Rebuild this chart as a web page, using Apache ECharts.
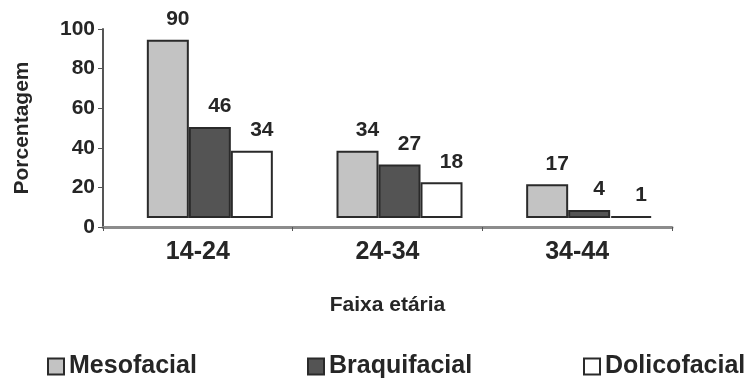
<!DOCTYPE html>
<html>
<head>
<meta charset="utf-8">
<script src="https://cdn.jsdelivr.net/npm/echarts@6/dist/echarts.min.js"></script>
<style>
  html, body { margin: 0; padding: 0; background: #fff; }
  #chart { width: 750px; height: 380px; }
</style>
</head>
<body>
<div id="chart"></div>
<script>
// Age bands and percentage of each facial type
const categories = ['14-24', '24-34', '34-44'];
const mesofacial = [90, 34, 17];
const braquifacial = [46, 27, 4];
const dolicofacial = [34, 18, 1];
const yTicks = [0, 20, 40, 60, 80, 100];

const FONT = '"Liberation Sans", Arial, Helvetica, sans-serif';
const TEXT = '#262626';

const chart = echarts.init(document.getElementById('chart'), null, { renderer: 'canvas' });

const labelStyle = {
  show: true,
  position: 'top',
  distance: 10,
  offset: [10, 0],
  fontFamily: FONT,
  fontWeight: 'bold',
  fontSize: 21,
  color: TEXT
};

function barSeries(name, data, fill) {
  return {
    name: name,
    type: 'bar',
    xAxisIndex: 1,
    yAxisIndex: 1,
    data: data,
    barWidth: 42,
    barGap: '0%',
    itemStyle: { color: fill, borderColor: '#2a2a2a', borderWidth: 2 },
    label: labelStyle,
    emphasis: { disabled: true }
  };
}

function legendAt(name, left) {
  return {
    data: [{ name: name, icon: 'rect' }],
    left: left,
    top: 349,
    itemWidth: 16,
    itemHeight: 16,
    itemGap: 0,
    selectedMode: false,
    textStyle: { fontFamily: FONT, fontWeight: 'bold', fontSize: 25, color: TEXT }
  };
}

chart.setOption({
  animation: false,
  backgroundColor: '#ffffff',
  legend: [
    legendAt('Mesofacial', 42),
    legendAt('Braquifacial', 302),
    legendAt('Dolicofacial', 578)
  ],
  grid: [
    // visible axes
    { left: 103, right: 78, top: 29, bottom: 153, containLabel: false },
    // bars, drawn with a slight depth offset (up and to the right)
    { left: 115, right: 66, top: 20, bottom: 162, containLabel: false }
  ],
  xAxis: [
    {
      type: 'category',
      gridIndex: 0,
      data: categories,
      name: 'Faixa etária',
      nameLocation: 'middle',
      nameGap: 68,
      nameTextStyle: { fontFamily: FONT, fontWeight: 'bold', fontSize: 21, color: TEXT },
      axisLine: { lineStyle: { color: '#8c8c8c', width: 3 } },
      axisTick: { show: true, length: 4, alignWithLabel: false, lineStyle: { color: '#555', width: 1 } },
      axisLabel: { fontFamily: FONT, fontWeight: 'bold', fontSize: 25, color: TEXT, margin: 13 }
    },
    {
      type: 'category',
      gridIndex: 1,
      data: categories,
      show: false
    }
  ],
  yAxis: [
    {
      type: 'value',
      gridIndex: 0,
      min: 0,
      max: 100,
      interval: 20,
      name: 'Porcentagem',
      nameLocation: 'middle',
      nameGap: 70,
      nameRotate: 90,
      nameTextStyle: { fontFamily: FONT, fontWeight: 'bold', fontSize: 21, color: TEXT },
      axisLine: { show: true, lineStyle: { color: '#555', width: 2 } },
      axisTick: { show: true, length: 5, lineStyle: { color: '#555', width: 1 } },
      splitLine: { show: false },
      axisLabel: {
        fontFamily: FONT, fontWeight: 'bold', fontSize: 21, color: TEXT, margin: 8,
        formatter: function (v) { return yTicks.indexOf(v) >= 0 ? String(v) : ''; }
      }
    },
    {
      type: 'value',
      gridIndex: 1,
      min: 0,
      max: 100,
      interval: 20,
      show: false
    }
  ],
  series: [
    barSeries('Mesofacial', mesofacial, '#c3c3c3'),
    barSeries('Braquifacial', braquifacial, '#545454'),
    barSeries('Dolicofacial', dolicofacial, '#ffffff')
  ]
});
</script>
</body>
</html>
